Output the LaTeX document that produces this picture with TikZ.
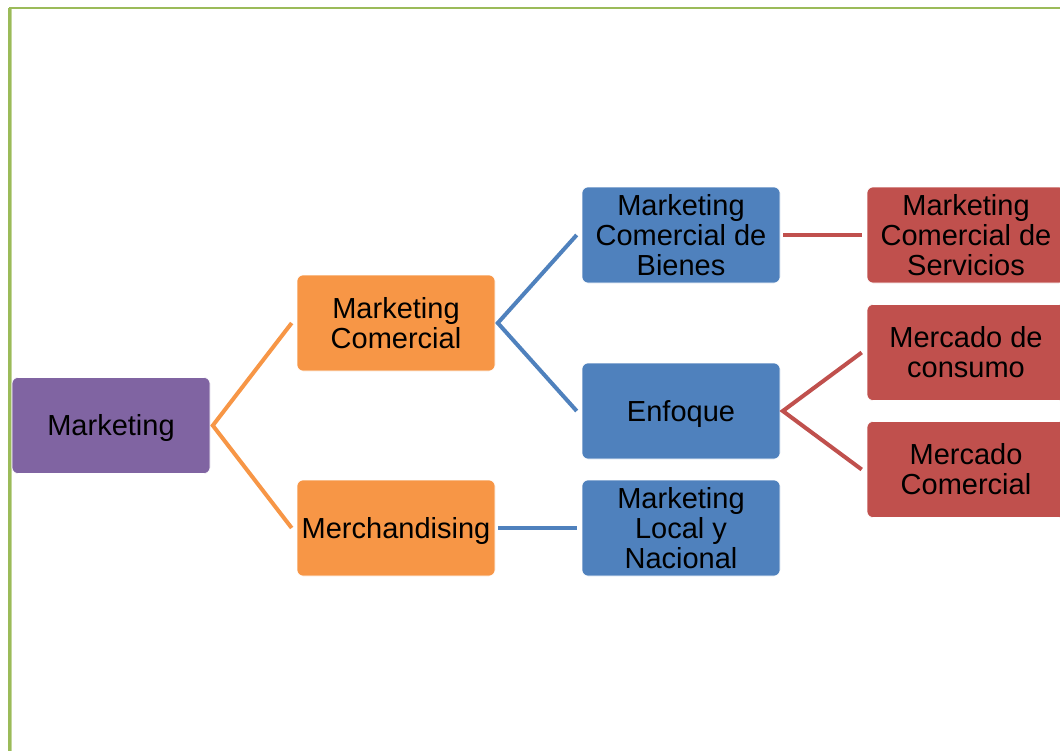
\documentclass[tikz,border=0pt]{standalone}
\usepackage{fontspec}
\setmainfont{Liberation Sans}
\definecolor{cpurple}{HTML}{8064A2}
\definecolor{corange}{HTML}{F79646}
\definecolor{cblue}{HTML}{4F81BD}
\definecolor{cred}{HTML}{C0504D}
\definecolor{cgreen}{HTML}{9BBB59}
\definecolor{clgreen}{HTML}{C3D69B}
\newcommand\lowtext[1]{\raisebox{-0.36em}[0pt][0pt]{#1}}
\begin{document}
\begin{tikzpicture}[x=1bp,y=-1bp,
  box/.style={rounded corners=6bp, draw=white, line width=0.6bp, minimum width=198bp, minimum height=96bp,
    align=center, inner sep=0pt, text=black, font=\fontsize{29bp}{30bp}\selectfont},
  pbox/.style={box, fill=cpurple},
  obox/.style={box, fill=corange},
  bbox/.style={box, fill=cblue},
  rbox/.style={box, fill=cred},
  conn/.style={line width=4bp},
  oline/.style={conn, draw=corange},
  bline/.style={conn, draw=cblue},
  rline/.style={conn, draw=cred}]
\clip (0,0) rectangle (1060,751);
\fill[white] (0,0) rectangle (1060,751);
% border
\draw[cgreen, line width=2bp] (9,8) -- (1060,8);
\draw[cgreen, line width=2.5bp] (9.5,8) -- (9.5,751);
\draw[clgreen, line width=1bp] (11.2,9) -- (11.2,751);
% nodes
\node[pbox] (mk) at (111,425.5) {\lowtext{Marketing}};
\node[obox] (mc) at (396,323) {Marketing\\Comercial};
\node[obox] (me) at (396,528) {\lowtext{Merchandising}};
\node[bbox] (mb) at (681,235) {Marketing\\Comercial de\\Bienes};
\node[bbox] (en) at (681,411) {\lowtext{Enfoque}};
\node[bbox] (ml) at (681,528) {Marketing\\Local y\\Nacional};
\node[rbox] (ms) at (966,235) {Marketing\\Comercial de\\Servicios};
\node[rbox] (co) at (966,352.5) {Mercado de\\consumo};
\node[rbox] (cm) at (966,469.5) {Mercado\\Comercial};
% connectors
\coordinate (j1) at ([xshift=2.5bp]mk.east);
\draw[oline, line join=miter] ([xshift=-5bp]mc.west) -- (j1) -- ([xshift=-5bp]me.west);
\coordinate (j2) at ([xshift=2.5bp]mc.east);
\draw[bline, line join=miter] ([xshift=-5bp]mb.west) -- (j2) -- ([xshift=-5bp]en.west);
\draw[bline] ([xshift=3bp]me.east) -- ([xshift=-5bp]ml.west);
\draw[rline] ([xshift=3bp]mb.east) -- ([xshift=-5bp]ms.west);
\coordinate (j3) at ([xshift=2.5bp]en.east);
\draw[rline, line join=miter] ([xshift=-5bp]co.west) -- (j3) -- ([xshift=-5bp]cm.west);
\end{tikzpicture}
\end{document}
